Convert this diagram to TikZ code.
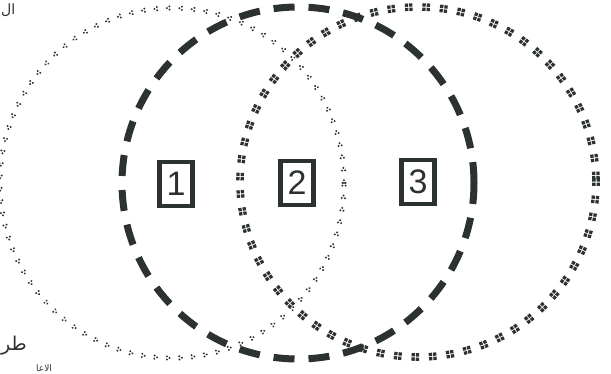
\documentclass[tikz,border=0pt]{standalone}
\usepackage{fontspec}
\setmainfont{Liberation Sans}
\newfontfamily\arabicfont[Script=Arabic]{DejaVu Sans}
\TeXXeTstate=1
\usetikzlibrary{decorations.markings}
\definecolor{ink}{HTML}{2C3230}
\tikzset{
  numbox/.style={draw=ink, line width=4.5pt, minimum width=33pt, minimum height=44pt,
    inner sep=0pt, text=ink, font=\fontsize{34}{34}\selectfont},
  dashring/.style={draw=ink, line width=7pt, dash pattern=on 21pt off 14pt},
  dotring/.style={postaction={decorate, decoration={markings,
    mark=between positions 0 and 1 step 12.5pt with {
      \fill[ink] (0,0) circle (1.1pt) (2.6pt,1.6pt) circle (1.1pt) (2.6pt,-1.6pt) circle (1.1pt);}}}},
  starring/.style={postaction={decorate, decoration={markings,
    mark=between positions 0 and 1 step 17.5pt with {
      \fill[ink] (-3.8pt,-3.8pt) rectangle (-0.5pt,-0.5pt)
                 (0.5pt,-3.8pt) rectangle (3.8pt,-0.5pt)
                 (-3.8pt,0.5pt) rectangle (-0.5pt,3.8pt)
                 (0.5pt,0.5pt) rectangle (3.8pt,3.8pt);}}}},
  arab/.style={text=ink, inner sep=0pt}
}
\begin{document}
\begin{tikzpicture}[x=1pt,y=-1pt]
\useasboundingbox (0,0) rectangle (611,373);
% rings
\path[dotring] (172,183) ellipse [x radius=172, y radius=175];
\path[starring] (418,182) ellipse [x radius=178, y radius=175];
\draw[dashring] (298,183) ellipse [x radius=176, y radius=176];
% numbered boxes
\node[numbox] (b1) at (176,184) {1};
\node[numbox] (b2) at (297,183) {2};
\node[numbox] (b3) at (418,182) {3};
% Arabic text fragments at the margins
\node[arab, anchor=west, font=\arabicfont\fontsize{14}{14}\selectfont] (t1) at (1,10) {\beginR ال\endR};
\node[arab, anchor=west, font=\arabicfont\fontsize{19}{19}\selectfont] (t2) at (1,346) {\beginR طر\endR};
\node[arab, anchor=south west, font=\arabicfont\fontsize{9}{9}\selectfont] (t3) at (36,372) {\beginR الاعا\endR};
\end{tikzpicture}
\end{document}
